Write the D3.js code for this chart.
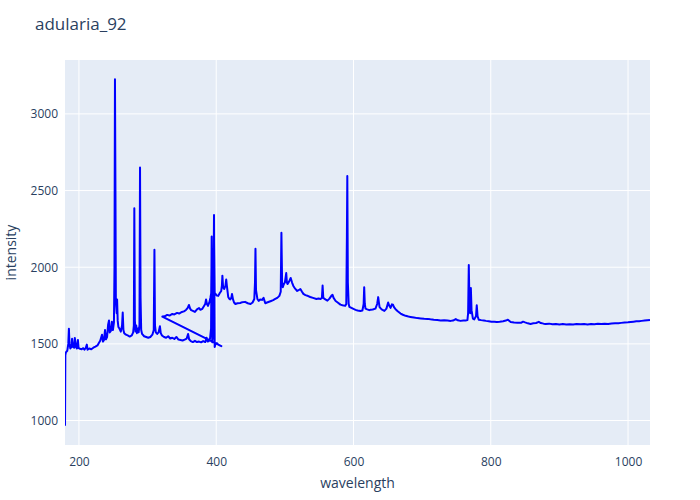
<!DOCTYPE html>
<html>
<head>
<meta charset="utf-8">
<script src="https://cdn.jsdelivr.net/npm/d3@7"></script>
<style>
  body { margin: 0; background: #fff; }
  text { font-family: "Open Sans", sans-serif; }
</style>
</head>
<body>
<svg id="chart" width="700" height="500"></svg>
<script>
var title = "adularia_92"

// spectrum, in file order (the low run to ~408 nm, then the second run from ~321 nm)
var wavelength = [
  179.7, 180.2, 181, 183, 184.5, 185.4, 186.2, 187.5, 189, 190, 191.2, 193, 194, 195.6, 197, 198.5, 199.5,
  201.5, 204, 206, 208, 210, 211.5, 212.5, 215, 218, 221, 224, 227, 229, 231, 233.6, 235, 236.5, 238, 239.4,
  241, 242.5, 243.8, 244.8, 246.5, 248, 249.5, 251, 251.8, 252.5, 253.2, 253.8, 255, 255.6, 256.5, 257.5, 259,
  261, 262.8, 263.8, 264.8, 266, 268.5, 271, 274, 277, 279, 280, 280.7, 281.5, 282.5, 283.5, 284.5, 286, 287,
  288.2, 289, 289.8, 290.7, 292, 295, 298, 301, 304, 307, 309, 310, 310.8, 312, 314, 316, 318, 319.2, 321, 324,
  327, 330, 333, 336, 339, 342, 345, 348, 351, 354, 357, 359, 360.5, 363, 366, 369, 372, 375, 378, 381, 384,
  386, 387.5, 389.5, 391, 392.5, 393.4, 394.2, 395.5, 396.8, 397.8, 399, 401, 403, 405, 407.5,
  321.5, 325, 328.5, 332, 336, 339, 343, 346, 350, 353, 356, 358.5, 360.3, 362, 363.5, 366, 369, 372, 375, 377,
  379.6, 382, 384, 385.2, 386.5, 388, 390, 391.5, 392.7, 393.4, 394.2, 395.5, 396.8, 397.8, 399, 401, 403, 405,
  407.3, 408.3, 409, 410, 411.7, 413.5, 414.6, 415.5, 417.5, 419, 420.5, 422, 423, 424.5, 426, 428, 431, 435,
  438, 442, 446, 450, 453, 455.5, 456.5, 457.2, 458, 460, 462, 464, 467, 469, 471.5, 474, 477, 480, 483, 486,
  489, 492, 494, 495, 496, 497, 498.5, 500, 501, 502, 503, 504, 506, 508.5, 510.5, 512.4, 515, 518, 520, 522.6,
  525, 527, 530, 534, 537, 541, 546, 549, 552, 554, 555, 556, 559, 562, 565, 568, 569.5, 571, 574, 577, 581,
  584, 588, 589.5, 590.4, 591, 591.8, 593, 594, 597, 600, 603, 606, 610, 613, 614.8, 615.6, 616.5, 617.5, 620,
  623, 625, 628, 632, 634.5, 636, 637, 638, 641, 645, 648, 650.5, 652, 654, 656, 657.5, 659, 661, 664, 668.6,
  672, 676, 680, 683, 688, 693, 698, 703, 708, 712, 717, 722, 727, 732, 737, 741.6, 745, 749, 752, 756, 760,
  763.5, 766, 767, 768, 769, 770, 771, 772, 774, 776, 778.5, 779.6, 780.8, 782.5, 786, 790, 793, 797, 801, 805,
  809, 813, 818, 822, 825, 829, 834, 839, 844, 847, 850, 854, 858, 862, 866, 870, 873, 877, 880, 885, 890, 895,
  900, 905, 910, 915, 920, 925, 931, 936, 941, 946, 951, 956, 961, 966, 971, 976, 981, 986, 990, 995, 1000,
  1004, 1008, 1012, 1016, 1020, 1024, 1028, 1032
]
var intensity = [
  966, 1425, 1445, 1455, 1500, 1598, 1500, 1470, 1480, 1533, 1480, 1475, 1539, 1480, 1470, 1526, 1472,
  1468, 1465, 1472, 1462, 1475, 1495, 1462, 1470, 1465, 1475, 1482, 1490, 1505, 1520, 1560, 1515, 1525, 1590, 1530,
  1545, 1625, 1652, 1575, 1585, 1645, 1590, 1640, 2000, 3226, 2500, 1780, 1700, 1790, 1650, 1610, 1600,
  1580, 1620, 1705, 1590, 1570, 1560, 1555, 1548, 1555, 1575, 1620, 2384, 1650, 1580, 1620, 1570, 1600, 1575,
  1620, 2651, 1800, 1590, 1565, 1550, 1545, 1540, 1545, 1560, 1590, 2114, 1620, 1575, 1565, 1575, 1615, 1570, 1555, 1545,
  1540, 1550, 1535, 1540, 1532, 1545, 1528, 1525, 1522, 1528, 1535, 1565, 1530, 1518, 1512, 1520, 1512, 1515, 1510, 1518, 1512,
  1540, 1515, 1520, 1535, 1600, 2200, 1510, 1560, 2340, 1480, 1500, 1505, 1495, 1490, 1485,
  1678, 1680, 1689, 1685, 1695, 1692, 1702, 1698, 1708, 1712, 1721, 1735, 1754, 1730, 1720, 1715, 1708, 1725, 1734, 1722,
  1728, 1745, 1760, 1790, 1760, 1748, 1770, 1800, 1830, 2120, 1780, 1800, 2250, 1830, 1826, 1815, 1813, 1830,
  1845, 1880, 1945, 1870, 1858, 1880, 1920, 1880, 1806, 1795, 1790, 1800, 1826, 1790, 1770, 1760, 1765, 1767,
  1772, 1774, 1765, 1760, 1770, 1793, 1900, 2120, 1850, 1793, 1780, 1790, 1787, 1800, 1765, 1770, 1775, 1780, 1785, 1793,
  1800, 1813, 1840, 2225, 1900, 1870, 1890, 1900, 1930, 1962, 1900, 1890, 1905, 1930, 1900, 1878, 1860, 1845, 1850, 1858,
  1840, 1826, 1818, 1812, 1806, 1800, 1793, 1796, 1793, 1800, 1880, 1800, 1790, 1782, 1795, 1815, 1820, 1800, 1780, 1770, 1756,
  1752, 1748, 1760, 2200, 2595, 1900, 1760, 1742, 1735, 1728, 1722, 1718, 1715, 1718, 1760, 1870, 1760, 1730, 1725,
  1720, 1722, 1724, 1730, 1760, 1805, 1770, 1740, 1725, 1715, 1730, 1770, 1750, 1735, 1758, 1755, 1740, 1728, 1715, 1698,
  1690, 1683, 1678, 1676, 1672, 1668, 1666, 1664, 1663, 1660, 1657, 1655, 1653, 1654, 1652, 1650, 1652, 1662, 1654, 1650, 1652,
  1653, 1655, 1700, 2015, 1750, 1700, 1865, 1720, 1665, 1660, 1680, 1752, 1680, 1658, 1655, 1652, 1650, 1648, 1645, 1644,
  1643, 1645, 1648, 1652, 1658, 1643, 1640, 1638, 1637, 1645, 1640, 1634, 1630, 1634, 1636, 1644, 1636, 1632, 1630, 1632, 1628, 1630,
  1627, 1629, 1626, 1628, 1627, 1630, 1628, 1629, 1627, 1630, 1628, 1631, 1630, 1632, 1630, 1633, 1634, 1635, 1637, 1639, 1641,
  1643, 1645, 1647, 1648, 1650, 1652, 1654, 1656
]
var xTicks = [200, 400, 600, 800, 1000]
var yTicks = [1000, 1500, 2000, 2500, 3000]

var plotLeft = 65, plotRight = 650, plotTop = 60, plotBottom = 445
var textColor = "#2a3f5f"

var svg = d3.select("#chart")

var points = wavelength.map(function(w, i) { return [w, intensity[i]]; })

var yMin = d3.min(intensity), yMax = d3.max(intensity)
var yPad = (yMax - yMin) / 0.9 * 0.05

var x = d3.scaleLinear()
    .domain(d3.extent(wavelength))
    .range([plotLeft, plotRight])
var y = d3.scaleLinear()
    .domain([yMin - yPad, yMax + yPad])
    .range([plotBottom, plotTop])

svg.append("rect")
    .attr("x", plotLeft)
    .attr("y", plotTop)
    .attr("width", plotRight - plotLeft)
    .attr("height", plotBottom - plotTop)
    .attr("fill", "#E5ECF6")

// grid
svg.append("g")
  .selectAll("line")
    .data(xTicks)
    .enter()
  .append("line")
    .attr("x1", function(d) { return x(d); })
    .attr("x2", function(d) { return x(d); })
    .attr("y1", plotTop)
    .attr("y2", plotBottom)
    .attr("stroke", "#fff")
    .attr("stroke-width", 1)

svg.append("g")
  .selectAll("line")
    .data(yTicks)
    .enter()
  .append("line")
    .attr("x1", plotLeft)
    .attr("x2", plotRight)
    .attr("y1", function(d) { return y(d); })
    .attr("y2", function(d) { return y(d); })
    .attr("stroke", "#fff")
    .attr("stroke-width", 1)

// axes (labels only, plotly style)
var xAxis = svg.append("g")
    .attr("transform", "translate(0," + plotBottom + ")")
    .call(d3.axisBottom(x).tickValues(xTicks).tickSize(0).tickPadding(12).tickFormat(d3.format("d")))
var yAxis = svg.append("g")
    .attr("transform", "translate(" + plotLeft + ",0)")
    .call(d3.axisLeft(y).tickValues(yTicks).tickSize(0).tickPadding(7).tickFormat(d3.format("d")))

;[xAxis, yAxis].forEach(function(g) {
  g.select(".domain").remove()
  g.selectAll("text")
      .attr("fill", textColor)
      .style("font-size", "12px")
      .style("font-family", "'Open Sans', sans-serif")
})

svg.append("clipPath")
    .attr("id", "plotclip")
  .append("rect")
    .attr("x", plotLeft)
    .attr("y", plotTop)
    .attr("width", plotRight - plotLeft)
    .attr("height", plotBottom - plotTop)

var line = d3.line()
    .x(function(d) { return x(d[0]); })
    .y(function(d) { return y(d[1]); })

svg.append("path")
    .datum(points)
    .attr("clip-path", "url(#plotclip)")
    .attr("d", line)
    .attr("fill", "none")
    .attr("stroke", "#0000ff")
    .attr("stroke-width", 2)
    .attr("stroke-linejoin", "round")

// ========== TEXT ============= //

svg.append("text")
    .attr("x", 35)
    .attr("y", 30)
    .attr("fill", textColor)
    .style("font-size", "17px")
    .text(title)

svg.append("text")
    .attr("x", (plotLeft + plotRight) / 2)
    .attr("y", 488)
    .attr("text-anchor", "middle")
    .attr("fill", textColor)
    .style("font-size", "14px")
    .text("wavelength")

svg.append("text")
    .attr("transform", "translate(16," + (plotTop + plotBottom) / 2 + ") rotate(-90)")
    .attr("text-anchor", "middle")
    .attr("fill", textColor)
    .style("font-size", "14px")
    .text("intensity")
</script>
</body>
</html>
